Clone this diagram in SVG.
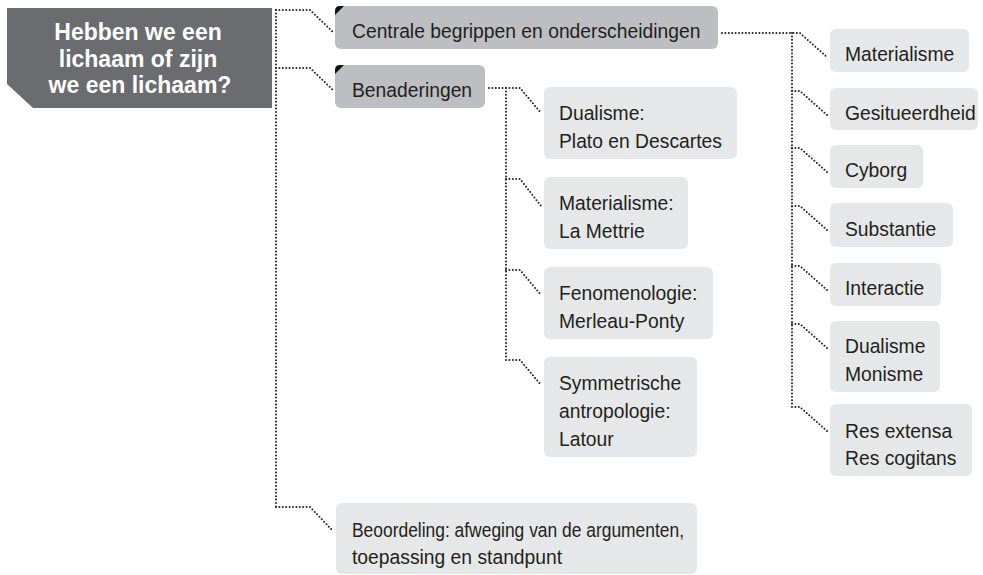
<svg xmlns="http://www.w3.org/2000/svg" width="983" height="575" viewBox="0 0 983 575">
<defs>
<style>
.t{font-family:"Liberation Sans",Arial,sans-serif;font-size:19.3px;fill:#231f20}
.title{font-family:"Liberation Sans",Arial,sans-serif;font-size:23px;font-weight:bold;fill:#ffffff;text-anchor:middle}
.main{fill:#bdbec1}
.leaf{fill:#e6e7e8}
.tag{fill:#111111}
.c{fill:none;stroke:#231f20;stroke-width:2;stroke-linecap:round;stroke-linejoin:round;stroke-dasharray:0 3.4}
</style>
</defs>
<rect width="983" height="575" fill="#ffffff"/>
<g id="connectors">
<path class="c" d="M276,10 V507"/>
<path class="c" d="M276,10 H310 L333,32"/>
<path class="c" d="M276,68 H310 L333,90"/>
<path class="c" d="M276,507 H310 L332,530"/>
<path class="c" d="M722,33 H800 L828,58"/>
<path class="c" d="M792,33 V407"/>
<path class="c" d="M792,91 H800 L828,116"/>
<path class="c" d="M792,148 H800 L828,173"/>
<path class="c" d="M792,206 H800 L828,231"/>
<path class="c" d="M792,266 H800 L828,291"/>
<path class="c" d="M792,324 H800 L828,349"/>
<path class="c" d="M792,407 H800 L828,432"/>
<path class="c" d="M489,88 H520 L541,113"/>
<path class="c" d="M506,88 V360"/>
<path class="c" d="M506,179 H520 L541,206"/>
<path class="c" d="M506,270 H520 L541,295"/>
<path class="c" d="M506,360 H520 L541,385"/>
</g>
<g id="root">
<path d="M7,8 H272 V108 H33 L7,84 Z" fill="#6b6c70"/>
<text class="title" x="138" y="40">Hebben we een</text>
<text class="title" x="138" y="67">lichaam of zijn</text>
<text class="title" x="140" y="93">we een lichaam?</text>
</g>
<g id="centrale">
<rect class="main" x="335" y="6" width="383" height="43" rx="6"/>
<path class="tag" d="M335,15 V11 Q335,6 340,6 H344 Z"/>
<text class="t" x="352" y="38">Centrale begrippen en onderscheidingen</text>
</g>
<g id="benaderingen">
<rect class="main" x="335" y="65" width="150" height="43" rx="6"/>
<path class="tag" d="M335,74 V70 Q335,65 340,65 H344 Z"/>
<text class="t" x="352" y="97">Benaderingen</text>
</g>
<g id="dualisme-plato">
<rect class="leaf" x="544" y="87" width="193" height="72" rx="6"/>
<text class="t" x="559" y="120">Dualisme:</text>
<text class="t" x="559" y="148">Plato en Descartes</text>
</g>
<g id="materialisme-lamettrie">
<rect class="leaf" x="544" y="177" width="144" height="72" rx="6"/>
<text class="t" x="559" y="210">Materialisme:</text>
<text class="t" x="559" y="238">La Mettrie</text>
</g>
<g id="fenomenologie">
<rect class="leaf" x="544" y="267" width="169" height="72" rx="6"/>
<text class="t" x="559" y="300">Fenomenologie:</text>
<text class="t" x="559" y="328">Merleau-Ponty</text>
</g>
<g id="symmetrische">
<rect class="leaf" x="544" y="357" width="153" height="100" rx="6"/>
<text class="t" x="559" y="390">Symmetrische</text>
<text class="t" x="559" y="418">antropologie:</text>
<text class="t" x="559" y="446">Latour</text>
</g>
<g id="beoordeling">
<rect class="leaf" x="336" y="503" width="361" height="71" rx="6"/>
<text class="t" x="352" y="537" textLength="332" lengthAdjust="spacingAndGlyphs">Beoordeling: afweging van de argumenten,</text>
<text class="t" x="352" y="564">toepassing en standpunt</text>
</g>
<g id="materialisme">
<rect class="leaf" x="830" y="29" width="139" height="43" rx="6"/>
<text class="t" x="845" y="61">Materialisme</text>
</g>
<g id="gesitueerdheid">
<rect class="leaf" x="830" y="88" width="148" height="42" rx="6"/>
<text class="t" x="845" y="120">Gesitueerdheid</text>
</g>
<g id="cyborg">
<rect class="leaf" x="830" y="145" width="93" height="43" rx="6"/>
<text class="t" x="845" y="177">Cyborg</text>
</g>
<g id="substantie">
<rect class="leaf" x="830" y="203" width="123" height="44" rx="6"/>
<text class="t" x="845" y="236">Substantie</text>
</g>
<g id="interactie">
<rect class="leaf" x="830" y="263" width="111" height="43" rx="6"/>
<text class="t" x="845" y="295">Interactie</text>
</g>
<g id="dualisme-monisme">
<rect class="leaf" x="830" y="321" width="110" height="71" rx="6"/>
<text class="t" x="845" y="353">Dualisme</text>
<text class="t" x="845" y="381">Monisme</text>
</g>
<g id="res">
<rect class="leaf" x="830" y="404" width="142" height="72" rx="6"/>
<text class="t" x="845" y="438">Res extensa</text>
<text class="t" x="845" y="465">Res cogitans</text>
</g>
</svg>
